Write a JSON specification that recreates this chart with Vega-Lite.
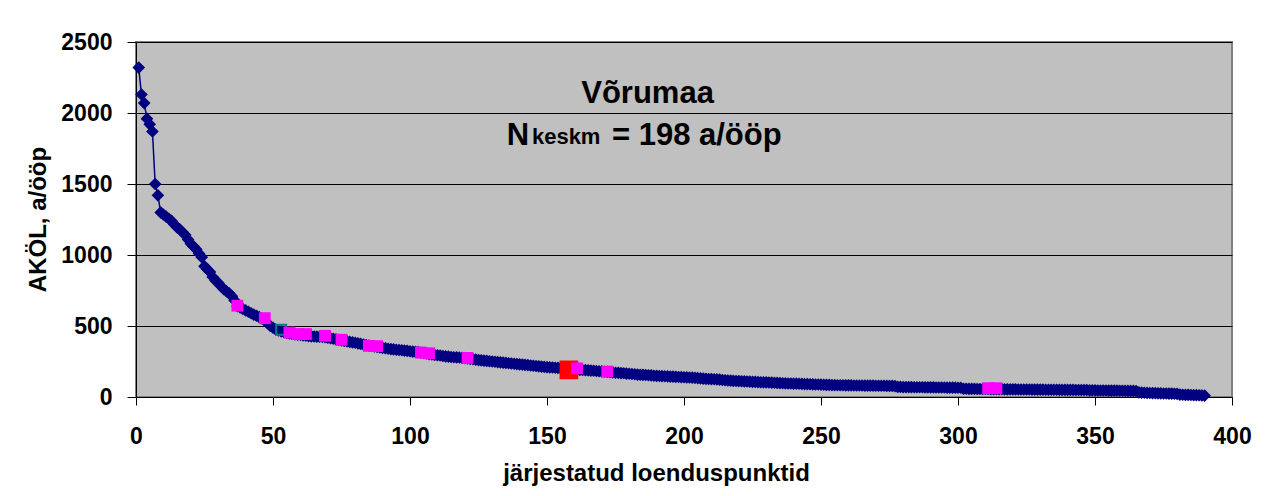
{
  "$schema": "https://vega.github.io/schema/vega-lite/v6.json",
  "width": 1096,
  "height": 355,
  "autosize": {"type": "none"},
  "padding": {"left": 136, "top": 42, "right": 37, "bottom": 99},
  "background": "white",
  "config": {
    "font": "Liberation Sans",
    "view": {"fill": "#C0C0C0", "stroke": "#808080", "strokeWidth": 2}
  },
  "datasets": {
    "main": [
{"i":1,"v":2320},{"i":2,"v":2130},{"i":3,"v":2070},{"i":4,"v":1960},{"i":5,"v":1920},{"i":6,"v":1870},{"i":7,"v":1500},{"i":8,"v":1420},{"i":9,"v":1300},{"i":10,"v":1285},
{"i":11,"v":1270},{"i":12,"v":1255},{"i":13,"v":1240},{"i":14,"v":1215},{"i":15,"v":1195},{"i":16,"v":1180},{"i":17,"v":1160},{"i":18,"v":1140},{"i":19,"v":1110},{"i":20,"v":1080},
{"i":21,"v":1060},{"i":22,"v":1040},{"i":23,"v":1010},{"i":24,"v":985},{"i":25,"v":920},{"i":26,"v":900},{"i":27,"v":880},{"i":28,"v":845},{"i":29,"v":820},{"i":30,"v":805},
{"i":31,"v":780},{"i":32,"v":760},{"i":33,"v":745},{"i":34,"v":730},{"i":35,"v":710},{"i":36,"v":680},{"i":37,"v":640},{"i":38,"v":630},{"i":39,"v":620},{"i":40,"v":610},
{"i":41,"v":600},{"i":42,"v":590},{"i":43,"v":580},{"i":44,"v":572},{"i":45,"v":562},{"i":46,"v":553},{"i":47,"v":540},{"i":48,"v":520},{"i":49,"v":500},{"i":50,"v":488},
{"i":51,"v":475},{"i":52,"v":468},{"i":53,"v":462},{"i":54,"v":457},{"i":55,"v":452},{"i":56,"v":448},{"i":57,"v":444},{"i":58,"v":441},{"i":59,"v":439},{"i":60,"v":437},
{"i":61,"v":434},{"i":62,"v":431},{"i":63,"v":429},{"i":64,"v":427},{"i":65,"v":426},{"i":66,"v":425},{"i":67,"v":424},{"i":68,"v":423},{"i":69,"v":421},{"i":70,"v":418},
{"i":71,"v":414},{"i":72,"v":410},{"i":73,"v":406},{"i":74,"v":402},{"i":75,"v":398},{"i":76,"v":395},{"i":77,"v":392},{"i":78,"v":388},{"i":79,"v":385},{"i":80,"v":382},
{"i":81,"v":378},{"i":82,"v":374},{"i":83,"v":370},{"i":84,"v":366},{"i":85,"v":362},{"i":86,"v":359},{"i":87,"v":356},{"i":88,"v":352},{"i":89,"v":349},{"i":90,"v":346},
{"i":91,"v":343},{"i":92,"v":340},{"i":93,"v":337},{"i":94,"v":335},{"i":95,"v":333},{"i":96,"v":331},{"i":97,"v":329},{"i":98,"v":327},{"i":99,"v":325},{"i":100,"v":322},
{"i":101,"v":320},{"i":102,"v":318},{"i":103,"v":316},{"i":104,"v":313},{"i":105,"v":310},{"i":106,"v":306},{"i":107,"v":302},{"i":108,"v":299},{"i":109,"v":296},{"i":110,"v":294},
{"i":111,"v":292},{"i":112,"v":289},{"i":113,"v":286},{"i":114,"v":284},{"i":115,"v":282},{"i":116,"v":280},{"i":117,"v":279},{"i":118,"v":278},{"i":119,"v":276},{"i":120,"v":274},
{"i":121,"v":272},{"i":122,"v":269},{"i":123,"v":266},{"i":124,"v":263},{"i":125,"v":260},{"i":126,"v":258},{"i":127,"v":256},{"i":128,"v":254},{"i":129,"v":252},{"i":130,"v":250},
{"i":131,"v":248},{"i":132,"v":246},{"i":133,"v":244},{"i":134,"v":242},{"i":135,"v":240},{"i":136,"v":238},{"i":137,"v":236},{"i":138,"v":234},{"i":139,"v":232},{"i":140,"v":230},
{"i":141,"v":228},{"i":142,"v":226},{"i":143,"v":224},{"i":144,"v":222},{"i":145,"v":220},{"i":146,"v":218},{"i":147,"v":216},{"i":148,"v":214},{"i":149,"v":212},{"i":150,"v":210},
{"i":151,"v":209},{"i":152,"v":208},{"i":153,"v":206},{"i":154,"v":205},{"i":155,"v":203},{"i":156,"v":202},{"i":157,"v":200},{"i":158,"v":198},{"i":159,"v":196},{"i":160,"v":195},
{"i":161,"v":193},{"i":162,"v":191},{"i":163,"v":190},{"i":164,"v":189},{"i":165,"v":188},{"i":166,"v":186},{"i":167,"v":185},{"i":168,"v":183},{"i":169,"v":181},{"i":170,"v":180},
{"i":171,"v":178},{"i":172,"v":177},{"i":173,"v":175},{"i":174,"v":173},{"i":175,"v":171},{"i":176,"v":170},{"i":177,"v":168},{"i":178,"v":167},{"i":179,"v":165},{"i":180,"v":164},
{"i":181,"v":162},{"i":182,"v":160},{"i":183,"v":158},{"i":184,"v":157},{"i":185,"v":156},{"i":186,"v":155},{"i":187,"v":153},{"i":188,"v":152},{"i":189,"v":150},{"i":190,"v":149},
{"i":191,"v":148},{"i":192,"v":147},{"i":193,"v":146},{"i":194,"v":145},{"i":195,"v":144},{"i":196,"v":143},{"i":197,"v":142},{"i":198,"v":141},{"i":199,"v":140},{"i":200,"v":139},
{"i":201,"v":138},{"i":202,"v":137},{"i":203,"v":136},{"i":204,"v":135},{"i":205,"v":133},{"i":206,"v":131},{"i":207,"v":129},{"i":208,"v":128},{"i":209,"v":127},{"i":210,"v":126},
{"i":211,"v":125},{"i":212,"v":124},{"i":213,"v":122},{"i":214,"v":120},{"i":215,"v":118},{"i":216,"v":116},{"i":217,"v":115},{"i":218,"v":114},{"i":219,"v":113},{"i":220,"v":112},
{"i":221,"v":111},{"i":222,"v":110},{"i":223,"v":109},{"i":224,"v":108},{"i":225,"v":107},{"i":226,"v":106},{"i":227,"v":105},{"i":228,"v":104},{"i":229,"v":103},{"i":230,"v":103},
{"i":231,"v":102},{"i":232,"v":101},{"i":233,"v":100},{"i":234,"v":99},{"i":235,"v":98},{"i":236,"v":97},{"i":237,"v":96},{"i":238,"v":95},{"i":239,"v":95},{"i":240,"v":94},
{"i":241,"v":94},{"i":242,"v":93},{"i":243,"v":92},{"i":244,"v":91},{"i":245,"v":91},{"i":246,"v":90},{"i":247,"v":89},{"i":248,"v":88},{"i":249,"v":88},{"i":250,"v":87},
{"i":251,"v":86},{"i":252,"v":85},{"i":253,"v":85},{"i":254,"v":84},{"i":255,"v":84},{"i":256,"v":83},{"i":257,"v":83},{"i":258,"v":83},{"i":259,"v":82},{"i":260,"v":82},
{"i":261,"v":82},{"i":262,"v":81},{"i":263,"v":81},{"i":264,"v":81},{"i":265,"v":81},{"i":266,"v":80},{"i":267,"v":80},{"i":268,"v":80},{"i":269,"v":80},{"i":270,"v":79},
{"i":271,"v":79},{"i":272,"v":79},{"i":273,"v":79},{"i":274,"v":78},{"i":275,"v":78},{"i":276,"v":78},{"i":277,"v":77},{"i":278,"v":71},{"i":279,"v":71},{"i":280,"v":70},
{"i":281,"v":70},{"i":282,"v":70},{"i":283,"v":70},{"i":284,"v":69},{"i":285,"v":69},{"i":286,"v":69},{"i":287,"v":69},{"i":288,"v":68},{"i":289,"v":68},{"i":290,"v":68},
{"i":291,"v":68},{"i":292,"v":67},{"i":293,"v":67},{"i":294,"v":67},{"i":295,"v":67},{"i":296,"v":66},{"i":297,"v":66},{"i":298,"v":66},{"i":299,"v":66},{"i":300,"v":65},
{"i":301,"v":65},{"i":302,"v":58},{"i":303,"v":58},{"i":304,"v":57},{"i":305,"v":57},{"i":306,"v":57},{"i":307,"v":56},{"i":308,"v":56},{"i":309,"v":56},{"i":310,"v":56},
{"i":311,"v":56},{"i":312,"v":55},{"i":313,"v":55},{"i":314,"v":55},{"i":315,"v":55},{"i":316,"v":55},{"i":317,"v":54},{"i":318,"v":54},{"i":319,"v":54},{"i":320,"v":54},
{"i":321,"v":54},{"i":322,"v":53},{"i":323,"v":53},{"i":324,"v":53},{"i":325,"v":53},{"i":326,"v":53},{"i":327,"v":52},{"i":328,"v":52},{"i":329,"v":52},{"i":330,"v":52},
{"i":331,"v":52},{"i":332,"v":51},{"i":333,"v":51},{"i":334,"v":51},{"i":335,"v":51},{"i":336,"v":51},{"i":337,"v":50},{"i":338,"v":50},{"i":339,"v":50},{"i":340,"v":50},
{"i":341,"v":50},{"i":342,"v":50},{"i":343,"v":49},{"i":344,"v":49},{"i":345,"v":49},{"i":346,"v":49},{"i":347,"v":49},{"i":348,"v":47},{"i":349,"v":47},{"i":350,"v":47},
{"i":351,"v":46},{"i":352,"v":46},{"i":353,"v":46},{"i":354,"v":46},{"i":355,"v":45},{"i":356,"v":45},{"i":357,"v":45},{"i":358,"v":45},{"i":359,"v":44},{"i":360,"v":44},
{"i":361,"v":44},{"i":362,"v":43},{"i":363,"v":43},{"i":364,"v":43},{"i":365,"v":42},{"i":366,"v":33},{"i":367,"v":31},{"i":368,"v":30},{"i":369,"v":29},{"i":370,"v":28},
{"i":371,"v":27},{"i":372,"v":27},{"i":373,"v":26},{"i":374,"v":26},{"i":375,"v":25},{"i":376,"v":25},{"i":377,"v":24},{"i":378,"v":24},{"i":379,"v":23},{"i":380,"v":22},
{"i":381,"v":17},{"i":382,"v":16},{"i":383,"v":15},{"i":384,"v":15},{"i":385,"v":14},{"i":386,"v":13},{"i":387,"v":13},{"i":388,"v":12},{"i":389,"v":11},{"i":390,"v":10}
    ],
    "mag": [
{"i":37,"v":643},{"i":47,"v":555},{"i":56,"v":454},{"i":59,"v":443},{"i":62,"v":443},{"i":69,"v":431},{"i":75,"v":403},{"i":85,"v":360},{"i":88,"v":358},{"i":104,"v":313},{"i":107,"v":308},{"i":121,"v":275},{"i":161,"v":202},{"i":172,"v":179},{"i":311,"v":62},{"i":314,"v":62}
    ],
    "red": [{"i":158,"v":191}],
    "teal": [{"i":53,"v":473}]
  },
  "layer": [
    {
      "data": {"name": "main"},
      "mark": {"type": "line", "color": "#000080", "strokeWidth": 1.5},
      "encoding": {
        "x": {
          "field": "i", "type": "quantitative",
          "scale": {"domain": [0, 400], "nice": false, "zero": false},
          "axis": {
            "values": [0, 50, 100, 150, 200, 250, 300, 350, 400],
            "format": "d",
            "grid": false,
            "title": "järjestatud loenduspunktid",
            "domainColor": "black", "domainWidth": 1,
            "tickColor": "black", "tickSize": 8, "tickWidth": 1,
            "labelFont": "Liberation Sans", "labelFontSize": 23, "labelFontWeight": "bold", "labelColor": "black",
            "labelPadding": 20, "labelFlush": false, "labelOverlap": false,
            "titleFont": "Liberation Sans", "titleFontSize": 24, "titleFontWeight": "bold", "titleColor": "black",
            "titleX": 520, "titleY": 83, "titleAlign": "center", "titleBaseline": "alphabetic"
          }
        },
        "y": {
          "field": "v", "type": "quantitative",
          "scale": {"domain": [0, 2500], "nice": false},
          "axis": {
            "values": [0, 500, 1000, 1500, 2000, 2500],
            "format": "d",
            "grid": true, "gridColor": "black", "gridWidth": 1, "gridOpacity": 1,
            "title": "AKÖL, a/ööp",
            "domainColor": "black", "domainWidth": 1,
            "tickColor": "black", "tickSize": 9, "tickWidth": 1,
            "labelFont": "Liberation Sans", "labelFontSize": 23, "labelFontWeight": "bold", "labelColor": "black",
            "labelPadding": 15,
            "titleFont": "Liberation Sans", "titleFontSize": 24, "titleFontWeight": "bold", "titleColor": "black",
            "titleX": -98, "titleY": 177, "titleAngle": -90, "titleAlign": "center", "titleBaseline": "middle"
          }
        }
      }
    },
    {
      "data": {"name": "main"},
      "mark": {"type": "point", "shape": "diamond", "filled": true, "size": 160, "color": "#000080", "opacity": 1},
      "encoding": {
        "x": {"field": "i", "type": "quantitative"},
        "y": {"field": "v", "type": "quantitative"}
      }
    },
    {
      "data": {"name": "teal"},
      "mark": {"type": "point", "shape": "square", "filled": false, "stroke": "#008080", "strokeWidth": 2, "size": 100, "opacity": 1},
      "encoding": {
        "x": {"field": "i", "type": "quantitative"},
        "y": {"field": "v", "type": "quantitative"}
      }
    },
    {
      "data": {"name": "red"},
      "mark": {"type": "point", "shape": "square", "filled": true, "color": "#FF0000", "size": 350, "opacity": 1},
      "encoding": {
        "x": {"field": "i", "type": "quantitative"},
        "y": {"field": "v", "type": "quantitative"}
      }
    },
    {
      "data": {"name": "mag"},
      "mark": {"type": "point", "shape": "square", "filled": true, "color": "#FF00FF", "size": 140, "opacity": 1},
      "encoding": {
        "x": {"field": "i", "type": "quantitative"},
        "y": {"field": "v", "type": "quantitative"}
      }
    },
    {
      "data": {"values": [{}]},
      "mark": {"type": "text", "text": "Võrumaa", "font": "Liberation Sans", "fontSize": 31, "fontWeight": "bold", "align": "center", "baseline": "alphabetic", "color": "black"},
      "encoding": {
        "x": {"datum": 186.7, "type": "quantitative"},
        "y": {"datum": 2068, "type": "quantitative"}
      }
    },
    {
      "data": {"values": [{}]},
      "mark": {"type": "text", "text": "N", "font": "Liberation Sans", "fontSize": 31, "fontWeight": "bold", "align": "left", "baseline": "alphabetic", "color": "black"},
      "encoding": {
        "x": {"datum": 135.3, "type": "quantitative"},
        "y": {"datum": 1775, "type": "quantitative"}
      }
    },
    {
      "data": {"values": [{}]},
      "mark": {"type": "text", "text": "keskm", "font": "Liberation Sans", "fontSize": 22, "fontWeight": "bold", "align": "left", "baseline": "alphabetic", "color": "black"},
      "encoding": {
        "x": {"datum": 144.5, "type": "quantitative"},
        "y": {"datum": 1785, "type": "quantitative"}
      }
    },
    {
      "data": {"values": [{}]},
      "mark": {"type": "text", "text": "= 198 a/ööp", "font": "Liberation Sans", "fontSize": 31, "fontWeight": "bold", "align": "left", "baseline": "alphabetic", "color": "black"},
      "encoding": {
        "x": {"datum": 173.7, "type": "quantitative"},
        "y": {"datum": 1775, "type": "quantitative"}
      }
    }
  ]
}
